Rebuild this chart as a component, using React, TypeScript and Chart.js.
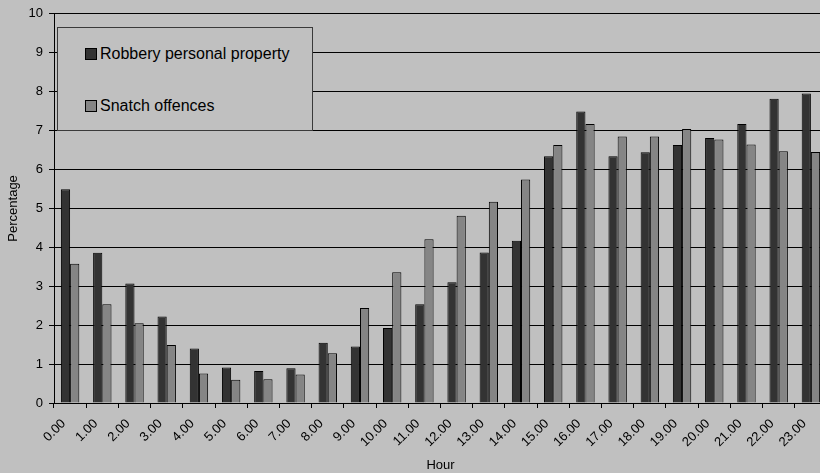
import React, { useEffect, useRef } from 'react';
import { Chart, registerables } from 'chart.js';

Chart.register(...registerables);

const hours: string[] = [
  '0.00', '1.00', '2.00', '3.00', '4.00', '5.00', '6.00', '7.00',
  '8.00', '9.00', '10.00', '11.00', '12.00', '13.00', '14.00', '15.00',
  '16.00', '17.00', '18.00', '19.00', '20.00', '21.00', '22.00', '23.00',
];

const robberyPersonalProperty: number[] = [
  5.49, 3.86, 3.07, 2.22, 1.4, 0.91, 0.82, 0.89, 1.55, 1.45, 1.93, 2.54,
  3.1, 3.87, 4.17, 6.34, 7.49, 6.34, 6.44, 6.63, 6.81, 7.17, 7.82, 7.95,
];

const snatchOffences: number[] = [
  3.58, 2.54, 2.05, 1.49, 0.76, 0.6, 0.61, 0.73, 1.28, 2.44, 3.36, 4.21,
  4.81, 5.17, 5.74, 6.63, 7.17, 6.85, 6.85, 7.04, 6.77, 6.64, 6.47, 6.45,
];

const seriesNames = ['Robbery personal property', 'Snatch offences'];
const seriesColors = ['#333333', '#858585'];

const BG = '#c0c0c0';
const FONT = 'Arial, "Liberation Sans", sans-serif';

const App: React.FC = () => {
  const canvasRef = useRef<HTMLCanvasElement>(null);
  const chartInstance = useRef<Chart | null>(null);

  useEffect(() => {
    if (!canvasRef.current) return;
    const ctx = canvasRef.current.getContext('2d');
    if (!ctx) return;

    chartInstance.current = new Chart(ctx, {
      type: 'bar',
      data: {
        labels: hours,
        datasets: [
          {
            label: seriesNames[0],
            data: robberyPersonalProperty,
            backgroundColor: seriesColors[0],
            borderColor: '#000',
            borderWidth: 1,
          },
          {
            label: seriesNames[1],
            data: snatchOffences,
            backgroundColor: seriesColors[1],
            borderColor: '#000',
            borderWidth: 1,
          },
        ],
      },
      options: {
        animation: false,
        responsive: true,
        maintainAspectRatio: false,
        layout: { padding: { top: 12, right: 3, bottom: 0, left: 0 } },
        datasets: {
          bar: { categoryPercentage: 2 / 3.5, barPercentage: 1 },
        },
        plugins: {
          legend: { display: false },
          tooltip: { enabled: false },
        },
        scales: {
          x: {
            grid: {
              offset: true,
              drawOnChartArea: false,
              drawTicks: true,
              tickLength: 5,
              color: '#000',
            },
            border: { color: '#000', width: 1 },
            ticks: {
              autoSkip: false,
              maxRotation: 45,
              minRotation: 45,
              labelOffset: -6.5,
              padding: 8,
              color: '#000',
              font: { family: FONT, size: 13 },
            },
            title: {
              display: true,
              text: 'Hour',
              color: '#000',
              font: { family: FONT, size: 13 },
              padding: { top: 0, bottom: 0 },
            },
            afterFit: (scale) => {
              scale.height = 70;
            },
          },
          y: {
            min: 0,
            max: 10,
            ticks: {
              stepSize: 1,
              padding: 6,
              color: '#000',
              font: { family: FONT, size: 13 },
            },
            grid: {
              color: '#000',
              lineWidth: 1,
              tickLength: 5,
            },
            border: { color: '#000', width: 1 },
            title: {
              display: true,
              text: 'Percentage',
              color: '#000',
              font: { family: FONT, size: 13 },
              padding: { top: 6, bottom: 0 },
            },
            afterFit: (scale) => {
              scale.width = 54;
            },
          },
        },
      },
    });

    return () => {
      if (chartInstance.current) {
        chartInstance.current.destroy();
        chartInstance.current = null;
      }
    };
  }, []);

  const textStyle: React.CSSProperties = {
    position: 'absolute',
    left: 100,
    fontFamily: FONT,
    fontSize: 16,
    lineHeight: '16px',
    color: '#000',
    whiteSpace: 'nowrap',
  };
  const markerStyle = (color: string, top: number): React.CSSProperties => ({
    position: 'absolute',
    left: 85,
    top,
    width: 12,
    height: 12,
    boxSizing: 'border-box',
    border: '1px solid #000',
    background: color,
  });

  return (
    <div
      style={{
        position: 'absolute',
        left: 0,
        top: 0,
        width: 820,
        height: 473,
        overflow: 'hidden',
        background: BG,
      }}
    >
      <div style={{ position: 'absolute', left: 0, top: 0, width: 830, height: 473 }}>
        <canvas ref={canvasRef} />
      </div>
      {/* legend box drawn over the plot, as in the original */}
      <div
        style={{
          position: 'absolute',
          left: 57,
          top: 27,
          width: 256,
          height: 104,
          boxSizing: 'border-box',
          border: '1px solid #3a3a3a',
          background: BG,
        }}
      />
      <div style={markerStyle(seriesColors[0], 48)} />
      <span style={{ ...textStyle, top: 46 }}>{seriesNames[0]}</span>
      <div style={markerStyle(seriesColors[1], 100)} />
      <span style={{ ...textStyle, top: 98 }}>{seriesNames[1]}</span>
    </div>
  );
};

export default App;
